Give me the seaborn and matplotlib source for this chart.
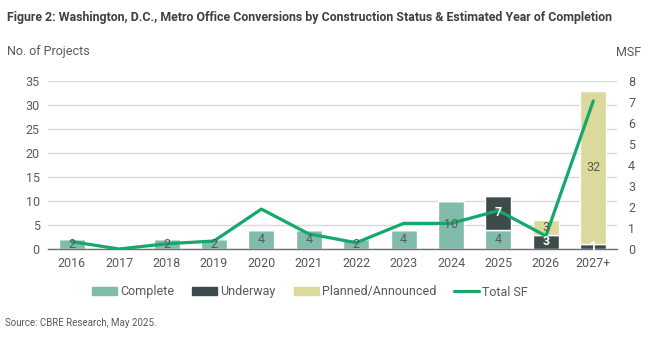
import numpy as np
import pandas as pd
import matplotlib
matplotlib.use("Agg")
import matplotlib.pyplot as plt
import seaborn as sns
from matplotlib.patches import Patch
from matplotlib.lines import Line2D

years = ["2016", "2017", "2018", "2019", "2020", "2021", "2022", "2023", "2024", "2025", "2026", "2027+"]
complete = [2, 0, 2, 2, 4, 4, 2, 4, 10, 4, 0, 0]
underway = [0, 0, 0, 0, 0, 0, 0, 0, 0, 7, 3, 1]
planned = [0, 0, 0, 0, 0, 0, 0, 0, 0, 0, 3, 32]
total_sf = [0.35, 0.0, 0.25, 0.38, 1.9, 0.72, 0.3, 1.22, 1.22, 1.83, 0.62, 7.05]

sns.set_theme(style="white")
FAM = ["Roboto", "DejaVu Sans"]
plt.rcParams["font.family"] = FAM

C_COMP = "#80BBAC"
C_UND = "#3E4B4C"
C_PLAN = "#DBD99B"
C_LINE = "#14A86B"
TXT = "#595959"

df = pd.DataFrame({"year": years, "complete": complete, "underway": underway, "planned": planned})
bottom2 = [c + u for c, u in zip(complete, underway)]

fig = plt.figure(figsize=(6.51, 3.38), dpi=100)
ax = fig.add_axes([48 / 651, 1 - 249 / 338, (617 - 48) / 651, 168 / 338])

sns.barplot(data=df, x="year", y="complete", color=C_COMP, width=0.55, ax=ax, saturation=1, zorder=2)
sns.barplot(data=df, x="year", y="underway", bottom=complete, color=C_UND, width=0.55, ax=ax, saturation=1, zorder=2)
sns.barplot(data=df, x="year", y="planned", bottom=bottom2, color=C_PLAN, width=0.55, ax=ax, saturation=1, zorder=2)

ax.set_xlim(-0.5, len(years) - 0.5)
ax.set_ylim(0, 35)
ax.set_yticks(range(0, 36, 5))
ax.yaxis.grid(True, color="#d9d9d9", linewidth=1)
ax.set_axisbelow(True)
for s in ["top", "right", "left"]:
    ax.spines[s].set_visible(False)
ax.spines["bottom"].set_color("#707070")
ax.spines["bottom"].set_linewidth(1)
ax.set_xlabel("")
ax.set_ylabel("")
ax.tick_params(axis="both", length=0, labelsize=9, colors=TXT, pad=6)

ax2 = ax.twinx()
sns.lineplot(x=np.arange(len(years)), y=total_sf, color=C_LINE, linewidth=2.3, ax=ax2, zorder=4)
ax2.set_ylim(0, 8)
ax2.set_yticks(range(0, 9))
for s in ["top", "right", "left", "bottom"]:
    ax2.spines[s].set_visible(False)
ax2.tick_params(axis="y", length=0, labelsize=9, colors=TXT, pad=8)
ax2.set_ylabel("")

# segment labels drawn above the line (placed from the bar patches)
label_colors = [TXT, "white", TXT]
for cont, vals, col in zip(ax.containers, [complete, underway, planned], label_colors):
    for rect, v in zip(cont.patches, vals):
        if v <= 0:
            continue
        ax2.text(rect.get_x() + rect.get_width() / 2, rect.get_y() + rect.get_height() / 2, str(v),
                 transform=ax.transData, ha="center", va="center", fontsize=9, color=col,
                 fontweight="bold" if col == "white" else "normal", zorder=6)

fig.text(7 / 651, 1 - 17 / 338, "Figure 2: Washington, D.C., Metro Office Conversions by Construction Status & Estimated Year of Completion",
         fontsize=8.95, fontweight="bold", color="#404040", va="center", ha="left")
fig.text(7 / 651, 1 - 52 / 338, "No. of Projects", fontsize=9, color=TXT, va="center", ha="left")
fig.text(641 / 651, 1 - 52 / 338, "MSF", fontsize=9, color=TXT, va="center", ha="right")
fig.text(5 / 651, 1 - 323 / 338, "Source: CBRE Research, May 2025.", fontsize=7, color=TXT, va="center", ha="left")

handles = [Patch(color=C_COMP, label="Complete"), Patch(color=C_UND, label="Underway"),
           Patch(color=C_PLAN, label="Planned/Announced"), Line2D([0], [0], color=C_LINE, lw=2.3, label="Total SF")]
leg = fig.legend(handles=handles, loc="center", bbox_to_anchor=(310 / 651, 1 - 292 / 338), ncol=4, frameon=False,
                 fontsize=9, handlelength=2.0, handleheight=0.55, handletextpad=0.25, columnspacing=1.45)
for t in leg.get_texts():
    t.set_color(TXT)

fig.savefig("out.png", dpi=100)
